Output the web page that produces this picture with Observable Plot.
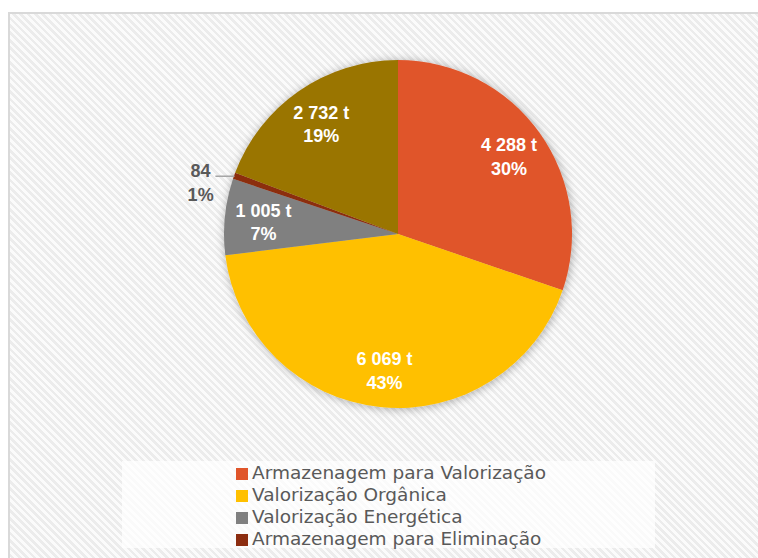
<!DOCTYPE html>
<html>
<head>
<meta charset="utf-8">
<script src="https://cdn.jsdelivr.net/npm/d3@7"></script>
<script src="https://cdn.jsdelivr.net/npm/@observablehq/plot@0.6"></script>
<style>
  body { margin: 0; background: #ffffff; }
  #wrap { position: relative; width: 758px; height: 558px; overflow: hidden; }
  #frame { position: absolute; left: 8px; top: 12px; width: 820px; height: 620px;
    border-top: 2px solid #d9d9d9; border-left: 2px solid #d9d9d9;
    background: repeating-linear-gradient(45deg, #fbfbfb 0px, #fbfbfb 2.6px, #ececec 2.6px, #ececec 5.2px); }
  #chart { position: absolute; left: 0; top: 0; }
  #legend { position: absolute; left: 122px; top: 461px; width: 533px; height: 87px;
    background: rgba(255,255,255,0.72); }
  #legend .items { position: absolute; left: 114px; top: 1px; }
  #legend .row { height: 22px; line-height: 22px; white-space: nowrap;
    font-family: "DejaVu Sans", sans-serif; font-size: 18.5px; color: #595959; }
  #legend .sw { display: inline-block; width: 12px; height: 12px; margin-right: 4px; vertical-align: -0.5px; }
</style>
</head>
<body>
<div id="wrap">
  <div id="frame"></div>
  <div id="chart"></div>
  <div id="legend"><div class="items"></div></div>
</div>
<script>
// ---- data ----
const categories = ["Armazenagem para Valorização", "Valorização Orgânica", "Valorização Energética", "Armazenagem para Eliminação", "Outros"];
const tonnes = [4288, 6069, 1005, 84, 2732];
const tonneLabels = ["4 288 t", "6 069 t", "1 005 t", "84", "2 732 t"];
const percentLabels = ["30%", "43%", "7%", "1%", "19%"];
const colors = ["#e0552a", "#ffc000", "#808080", "#8c2d10", "#9a7400"];
const legendCount = 4;

const slices = d3.pie().sort(null).value(d => d.value)(
  categories.map((c, i) => ({category: c, value: tonnes[i], tl: tonneLabels[i], pl: percentLabels[i], color: colors[i]}))
);
const total = d3.sum(tonnes);
slices.forEach(s => { s.mid = (s.startAngle + s.endAngle) / 2; s.share = s.data.value / total; });
const inside = slices.filter(s => s.share >= 0.02);
const outside = slices.filter(s => s.share < 0.02);
const LR = 0.78;

function pieMark(index, scales, values, dimensions, context) {
  const ns = "http://www.w3.org/2000/svg";
  const cx = scales.x(0), cy = scales.y(0), r = scales.x(1) - scales.x(0);
  const g = document.createElementNS(ns, "g");
  const defs = document.createElementNS(ns, "defs");
  defs.innerHTML = '<filter id="pieShadow" x="-20%" y="-20%" width="140%" height="140%"><feDropShadow dx="1" dy="1" stdDeviation="5" flood-color="#000" flood-opacity="0.32"/></filter>';
  g.appendChild(defs);
  const inner = document.createElementNS(ns, "g");
  inner.setAttribute("transform", `translate(${cx},${cy})`);
  inner.setAttribute("filter", "url(#pieShadow)");
  const arc = d3.arc().innerRadius(0).outerRadius(r);
  for (const s of slices) {
    const p = document.createElementNS(ns, "path");
    p.setAttribute("d", arc(s));
    p.setAttribute("fill", s.data.color);
    inner.appendChild(p);
  }
  g.appendChild(inner);
  return g;
}

const chart = Plot.plot({
  width: 758,
  height: 558,
  margin: 0,
  style: {background: "transparent", overflow: "visible"},
  x: {domain: [-1, 1], range: [224, 572], axis: null},
  y: {domain: [-1, 1], range: [408, 60], axis: null},
  marks: [
    pieMark,
    Plot.text(inside, {
      x: s => LR * Math.sin(s.mid), y: s => LR * Math.cos(s.mid),
      text: s => s.data.tl + "\n" + s.data.pl,
      fill: "#ffffff", fontWeight: "bold", fontSize: 18, lineHeight: 1.3,
      fontFamily: "Liberation Sans, Arial, sans-serif"
    }),
    Plot.link(outside, {
      x1: s => Math.sin(s.mid) - 0.11, y1: s => Math.cos(s.mid),
      x2: s => Math.sin(s.mid), y2: s => Math.cos(s.mid),
      stroke: "#a6a6a6", strokeWidth: 1.5
    }),
    Plot.text(outside, {
      x: s => Math.sin(s.mid) - 0.195, y: s => Math.cos(s.mid) - 0.03,
      text: s => s.data.tl + "\n" + s.data.pl,
      fill: "#595959", fontWeight: "bold", fontSize: 18, lineHeight: 1.3,
      fontFamily: "Liberation Sans, Arial, sans-serif"
    })
  ]
});
document.getElementById("chart").appendChild(chart);

const items = document.querySelector("#legend .items");
categories.slice(0, legendCount).forEach((c, i) => {
  const row = document.createElement("div");
  row.className = "row";
  const sw = document.createElement("span");
  sw.className = "sw";
  sw.style.background = colors[i];
  row.appendChild(sw);
  row.appendChild(document.createTextNode(c));
  items.appendChild(row);
});
</script>
</body>
</html>
